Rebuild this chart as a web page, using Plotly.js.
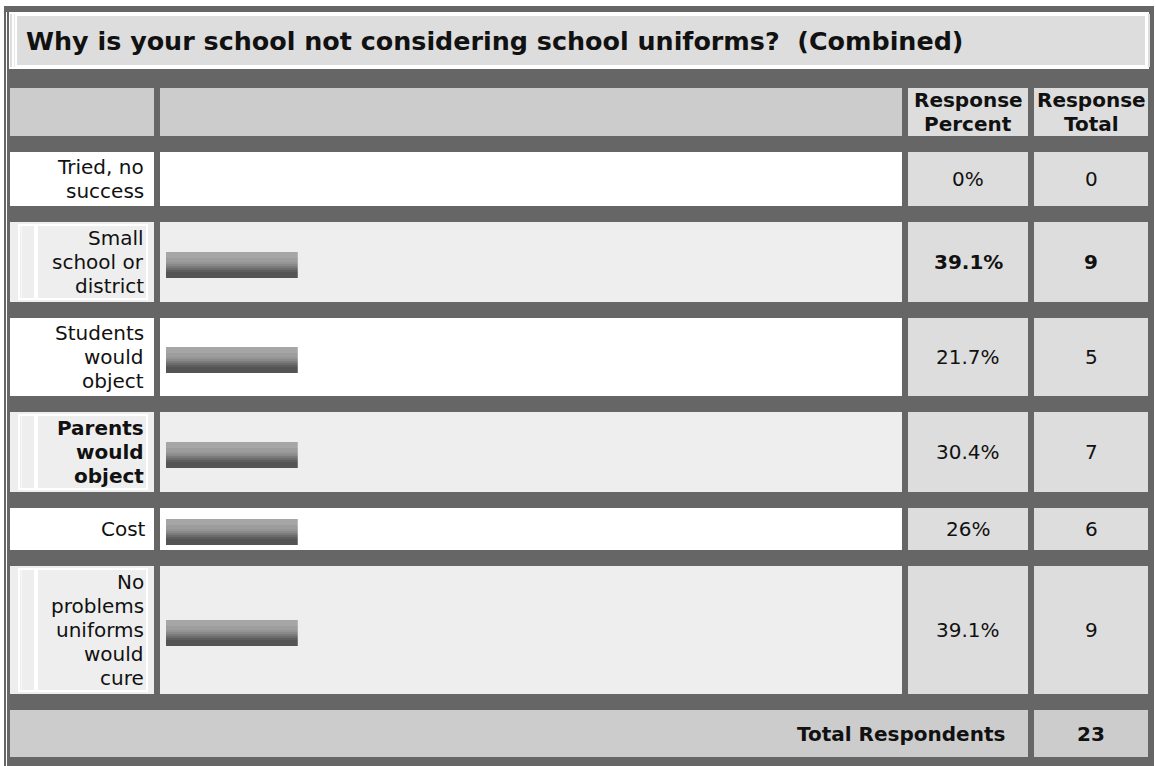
<!DOCTYPE html>
<html>
<head>
<meta charset="utf-8">
<script src="https://cdn.plot.ly/plotly-3.0.1.min.js"></script>
<style>html,body{margin:0;padding:0;background:#fff;}#chart{width:1156px;height:766px;}</style>
</head>
<body>
<div id="chart"></div>
<script>
// ---------------- DATA ----------------
const chartTitle = "Why is your school not considering school uniforms? \u00a0(Combined)";
const categories = ["Tried, no success", "Small school or district", "Students would object",
                    "Parents would object", "Cost", "No problems uniforms would cure"];
const responsePercent = [0, 39.1, 21.7, 30.4, 26, 39.1];
const responseTotal = [0, 9, 5, 7, 6, 9];
// bar lengths exactly as drawn in the picture (percent of the bar column width)
const barDrawn = [0, 18, 18, 18, 18, 18];
const headerLabels = ["Response Percent", "Response Total"];
const totalLabel = "Total Respondents";
const totalRespondents = 23;

// ---------------- LAYOUT / STYLE ----------------
const W = 1156, H = 766;
const FONT = "DejaVu Sans, Verdana, sans-serif";
const FS = 20;
const rowTop = [152, 222, 318, 412, 508, 566];
const rowBot = [206, 302, 396, 492, 550, 694];
const boldLabelRow = 3, boldValueRow = 1;
const stripes = [[0, 6, '#a6a6a6'], [6, 4, '#9d9d9d'], [10, 2, '#959595'], [12, 2, '#8a8a8a'],
                 [14, 2, '#7b7b7b'], [16, 2, '#6c6c6c'], [18, 2, '#5e5e5e'], [20, 6, '#545454']];

const px = x => x / W;
const py = y => 1 - y / H;
const shapes = [];
const annotations = [];
function rect(x0, y0, x1, y1, color) {
  shapes.push({type: 'rect', xref: 'paper', yref: 'paper', x0: px(x0), x1: px(x1),
               y0: py(y1), y1: py(y0), fillcolor: color, line: {width: 0}, layer: 'below'});
}
function text(t, x, y, anchor, size, bold) {
  annotations.push({xref: 'paper', yref: 'paper', x: px(x), y: py(y), text: bold ? '<b>' + t + '</b>' : t,
    showarrow: false, xanchor: anchor, yanchor: 'middle', align: anchor,
    font: {family: FONT, size: size, color: '#111'}});
}
function wrap(s, maxChars) {
  const words = s.split(' '); const lines = []; let cur = '';
  words.forEach(w => {
    if (cur === '') cur = w;
    else if ((cur + ' ' + w).length <= maxChars) cur += ' ' + w;
    else { lines.push(cur); cur = w; }
  });
  if (cur) lines.push(cur);
  return lines;
}
function lines(arr, x, cy, anchor, size, bold, lh) {
  const n = arr.length;
  arr.forEach((t, i) => text(t, x, cy + (i - (n - 1) / 2) * lh, anchor, size, bold));
}

// frame
rect(4, 6, 1154, 766, '#666666');
rect(6, 12, 7, 766, '#ffffff');
// title box
rect(9, 12, 1149, 69, '#ffffff');
rect(10, 14, 12, 67, '#dddddd');
rect(14, 14, 15, 67, '#e8e8e8');
rect(1148, 14, 1150, 67, '#dddddd');
rect(17, 16, 1145, 65, '#dddddd');
text(chartTitle, 24, 41, 'left', 25.4, true);

// header row
rect(10, 88, 154, 136, '#cccccc');
rect(160, 88, 902, 136, '#cccccc');
rect(908, 88, 1028, 136, '#dddddd');
rect(1034, 88, 1148, 136, '#dddddd');
lines(wrap(headerLabels[0], 9), 968, 112, 'center', FS, true, 24);
lines(wrap(headerLabels[1], 9), 1091, 112, 'center', FS, true, 24);

// data rows
const barY = [];
categories.forEach((c, i) => {
  const t = rowTop[i], b = rowBot[i], cy = (t + b) / 2;
  const shaded = i % 2 === 1;
  const bg = shaded ? '#eeeeee' : '#ffffff';
  rect(10, t, 154, b, bg);
  if (shaded) {
    rect(18, t + 2, 148, t + 4, '#ffffff');
    rect(18, b - 4, 148, b - 2, '#ffffff');
    rect(18, t + 2, 20, b - 2, '#ffffff');
    rect(146, t + 2, 148, b - 2, '#ffffff');
    rect(21, t + 4, 22, b - 4, '#f8f8f8');
    rect(34, t + 4, 38, b - 4, '#ffffff');
  }
  rect(160, t, 902, b, bg);
  rect(908, t, 1028, b, '#dddddd');
  rect(1034, t, 1148, b, '#dddddd');
  const lab = wrap(c, 9);
  lines(lab, lab.length === 1 ? 148 : 146, cy, 'right', FS, i === boldLabelRow, 24);
  text(String(responsePercent[i]) + '%', 968, cy, 'center', FS, i === boldValueRow);
  text(String(responseTotal[i]), 1091, cy, 'center', FS, i === boldValueRow);
  barY.push(cy - 10);
});

// total row
rect(10, 710, 1028, 757, '#cccccc');
rect(1034, 710, 1148, 757, '#cccccc');
text(totalLabel, 1007, 734, 'right', FS, true);
text(String(totalRespondents), 1091, 734, 'center', FS, true);

// bars (striped gradient) through the axes
const traces = stripes.map(s => ({
  type: 'bar', orientation: 'h', x: barDrawn, y: barY, base: 0,
  offset: s[0], width: s[1], marker: {color: s[2], line: {width: 0}},
  hoverinfo: 'skip', showlegend: false
}));

const layout = {
  width: W, height: H, margin: {l: 0, r: 0, t: 0, b: 0, pad: 0},
  paper_bgcolor: '#ffffff', plot_bgcolor: 'rgba(0,0,0,0)',
  barmode: 'overlay', showlegend: false,
  xaxis: {domain: [166 / W, 898 / W], range: [0, 100], visible: false, fixedrange: true},
  yaxis: {domain: [0, 1], range: [H, 0], visible: false, fixedrange: true},
  shapes: shapes, annotations: annotations
};
Plotly.newPlot('chart', traces, layout, {displayModeBar: false, staticPlot: true});
</script>
</body>
</html>
